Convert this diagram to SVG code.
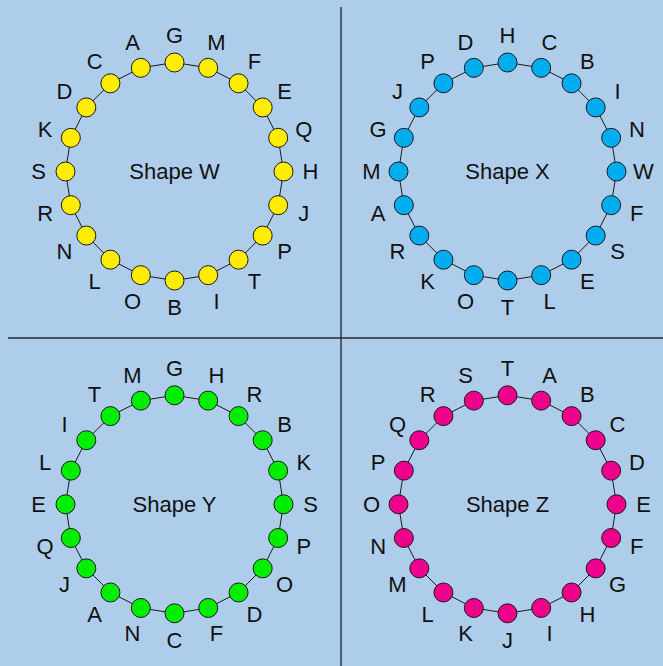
<svg xmlns="http://www.w3.org/2000/svg" xmlns:xlink="http://www.w3.org/1999/xlink" width="663" height="666" viewBox="0 0 663 666">
<style>
.bg{fill:#aecdea}
.div{stroke:#262a30;stroke-width:1.4;fill:none}
.edge{stroke:#1a1a1a;stroke-width:1;fill:none}
.n{stroke:#1a1a1a;stroke-width:1}
.w{fill:#ffed00}
.x{fill:#00aeef}
.y{fill:#00ee00}
.z{fill:#ec008c}
.lbl{font-family:"Liberation Sans",Arial,sans-serif;font-size:22px;fill:#111;text-anchor:middle}
.title{font-family:"Liberation Sans",Arial,sans-serif;font-size:22px;fill:#111;text-anchor:middle}
</style>
<defs>
<g id="ring">
<line x1="109" y1="0" x2="103.67" y2="-33.68"/>
<line x1="103.67" y1="-33.68" x2="88.18" y2="-64.07"/>
<line x1="88.18" y1="-64.07" x2="64.07" y2="-88.18"/>
<line x1="64.07" y1="-88.18" x2="33.68" y2="-103.67"/>
<line x1="33.68" y1="-103.67" x2="0" y2="-109"/>
<line x1="0" y1="-109" x2="-33.68" y2="-103.67"/>
<line x1="-33.68" y1="-103.67" x2="-64.07" y2="-88.18"/>
<line x1="-64.07" y1="-88.18" x2="-88.18" y2="-64.07"/>
<line x1="-88.18" y1="-64.07" x2="-103.67" y2="-33.68"/>
<line x1="-103.67" y1="-33.68" x2="-109" y2="0"/>
<line x1="-109" y1="0" x2="-103.67" y2="33.68"/>
<line x1="-103.67" y1="33.68" x2="-88.18" y2="64.07"/>
<line x1="-88.18" y1="64.07" x2="-64.07" y2="88.18"/>
<line x1="-64.07" y1="88.18" x2="-33.68" y2="103.67"/>
<line x1="-33.68" y1="103.67" x2="0" y2="109"/>
<line x1="0" y1="109" x2="33.68" y2="103.67"/>
<line x1="33.68" y1="103.67" x2="64.07" y2="88.18"/>
<line x1="64.07" y1="88.18" x2="88.18" y2="64.07"/>
<line x1="88.18" y1="64.07" x2="103.67" y2="33.68"/>
<line x1="103.67" y1="33.68" x2="109" y2="0"/>
</g>
</defs>
<rect class="bg" x="0" y="0" width="663" height="666"/>
<g id="dividers">
<line class="div" x1="341" y1="7" x2="341" y2="666"/>
<line class="div" x1="8" y1="338" x2="663" y2="338"/>
</g>
<g id="connectors" class="edge">
<use xlink:href="#ring" transform="translate(174.5,171.5)"/>
<use xlink:href="#ring" transform="translate(507.5,171.5)"/>
<use xlink:href="#ring" transform="translate(174.5,504.3)"/>
<use xlink:href="#ring" transform="translate(507.5,504.3)"/>
</g>
<g id="shapeW" transform="translate(174.5,171.5)">
<text class="title" x="0" y="7.5">Shape W</text>
<g id="W-H"><circle class="n w" cx="109" cy="0" r="9.5"/><text class="lbl" x="136" y="7.8">H</text></g>
<g id="W-Q"><circle class="n w" cx="103.67" cy="-33.68" r="9.5"/><text class="lbl" x="129.34" y="-34.2">Q</text></g>
<g id="W-E"><circle class="n w" cx="88.18" cy="-64.07" r="9.5"/><text class="lbl" x="110.03" y="-72.1">E</text></g>
<g id="W-F"><circle class="n w" cx="64.07" cy="-88.18" r="9.5"/><text class="lbl" x="79.94" y="-102.2">F</text></g>
<g id="W-M"><circle class="n w" cx="33.68" cy="-103.67" r="9.5"/><text class="lbl" x="42.03" y="-121.5">M</text></g>
<g id="W-G"><circle class="n w" cx="0" cy="-109" r="9.5"/><text class="lbl" x="0" y="-128.2">G</text></g>
<g id="W-A"><circle class="n w" cx="-33.68" cy="-103.67" r="9.5"/><text class="lbl" x="-42.03" y="-121.5">A</text></g>
<g id="W-C"><circle class="n w" cx="-64.07" cy="-88.18" r="9.5"/><text class="lbl" x="-79.94" y="-102.2">C</text></g>
<g id="W-D"><circle class="n w" cx="-88.18" cy="-64.07" r="9.5"/><text class="lbl" x="-110.03" y="-72.1">D</text></g>
<g id="W-K"><circle class="n w" cx="-103.67" cy="-33.68" r="9.5"/><text class="lbl" x="-129.34" y="-34.2">K</text></g>
<g id="W-S"><circle class="n w" cx="-109" cy="0" r="9.5"/><text class="lbl" x="-136" y="7.8">S</text></g>
<g id="W-R"><circle class="n w" cx="-103.67" cy="33.68" r="9.5"/><text class="lbl" x="-129.34" y="49.8">R</text></g>
<g id="W-N"><circle class="n w" cx="-88.18" cy="64.07" r="9.5"/><text class="lbl" x="-110.03" y="87.7">N</text></g>
<g id="W-L"><circle class="n w" cx="-64.07" cy="88.18" r="9.5"/><text class="lbl" x="-79.94" y="117.8">L</text></g>
<g id="W-O"><circle class="n w" cx="-33.68" cy="103.67" r="9.5"/><text class="lbl" x="-42.03" y="137.1">O</text></g>
<g id="W-B"><circle class="n w" cx="0" cy="109" r="9.5"/><text class="lbl" x="0" y="143.8">B</text></g>
<g id="W-I"><circle class="n w" cx="33.68" cy="103.67" r="9.5"/><text class="lbl" x="42.03" y="137.1">I</text></g>
<g id="W-T"><circle class="n w" cx="64.07" cy="88.18" r="9.5"/><text class="lbl" x="79.94" y="117.8">T</text></g>
<g id="W-P"><circle class="n w" cx="88.18" cy="64.07" r="9.5"/><text class="lbl" x="110.03" y="87.7">P</text></g>
<g id="W-J"><circle class="n w" cx="103.67" cy="33.68" r="9.5"/><text class="lbl" x="129.34" y="49.8">J</text></g>
</g>
<g id="shapeX" transform="translate(507.5,171.5)">
<text class="title" x="0" y="7.5">Shape X</text>
<g id="X-W"><circle class="n x" cx="109" cy="0" r="9.5"/><text class="lbl" x="136" y="7.8">W</text></g>
<g id="X-N"><circle class="n x" cx="103.67" cy="-33.68" r="9.5"/><text class="lbl" x="129.34" y="-34.2">N</text></g>
<g id="X-I"><circle class="n x" cx="88.18" cy="-64.07" r="9.5"/><text class="lbl" x="110.03" y="-72.1">I</text></g>
<g id="X-B"><circle class="n x" cx="64.07" cy="-88.18" r="9.5"/><text class="lbl" x="79.94" y="-102.2">B</text></g>
<g id="X-C"><circle class="n x" cx="33.68" cy="-103.67" r="9.5"/><text class="lbl" x="42.03" y="-121.5">C</text></g>
<g id="X-H"><circle class="n x" cx="0" cy="-109" r="9.5"/><text class="lbl" x="0" y="-128.2">H</text></g>
<g id="X-D"><circle class="n x" cx="-33.68" cy="-103.67" r="9.5"/><text class="lbl" x="-42.03" y="-121.5">D</text></g>
<g id="X-P"><circle class="n x" cx="-64.07" cy="-88.18" r="9.5"/><text class="lbl" x="-79.94" y="-102.2">P</text></g>
<g id="X-J"><circle class="n x" cx="-88.18" cy="-64.07" r="9.5"/><text class="lbl" x="-110.03" y="-72.1">J</text></g>
<g id="X-G"><circle class="n x" cx="-103.67" cy="-33.68" r="9.5"/><text class="lbl" x="-129.34" y="-34.2">G</text></g>
<g id="X-M"><circle class="n x" cx="-109" cy="0" r="9.5"/><text class="lbl" x="-136" y="7.8">M</text></g>
<g id="X-A"><circle class="n x" cx="-103.67" cy="33.68" r="9.5"/><text class="lbl" x="-129.34" y="49.8">A</text></g>
<g id="X-R"><circle class="n x" cx="-88.18" cy="64.07" r="9.5"/><text class="lbl" x="-110.03" y="87.7">R</text></g>
<g id="X-K"><circle class="n x" cx="-64.07" cy="88.18" r="9.5"/><text class="lbl" x="-79.94" y="117.8">K</text></g>
<g id="X-O"><circle class="n x" cx="-33.68" cy="103.67" r="9.5"/><text class="lbl" x="-42.03" y="137.1">O</text></g>
<g id="X-T"><circle class="n x" cx="0" cy="109" r="9.5"/><text class="lbl" x="0" y="143.8">T</text></g>
<g id="X-L"><circle class="n x" cx="33.68" cy="103.67" r="9.5"/><text class="lbl" x="42.03" y="137.1">L</text></g>
<g id="X-E"><circle class="n x" cx="64.07" cy="88.18" r="9.5"/><text class="lbl" x="79.94" y="117.8">E</text></g>
<g id="X-S"><circle class="n x" cx="88.18" cy="64.07" r="9.5"/><text class="lbl" x="110.03" y="87.7">S</text></g>
<g id="X-F"><circle class="n x" cx="103.67" cy="33.68" r="9.5"/><text class="lbl" x="129.34" y="49.8">F</text></g>
</g>
<g id="shapeY" transform="translate(174.5,504.3)">
<text class="title" x="0" y="7.5">Shape Y</text>
<g id="Y-S"><circle class="n y" cx="109" cy="0" r="9.5"/><text class="lbl" x="136" y="7.8">S</text></g>
<g id="Y-K"><circle class="n y" cx="103.67" cy="-33.68" r="9.5"/><text class="lbl" x="129.34" y="-34.2">K</text></g>
<g id="Y-B"><circle class="n y" cx="88.18" cy="-64.07" r="9.5"/><text class="lbl" x="110.03" y="-72.1">B</text></g>
<g id="Y-R"><circle class="n y" cx="64.07" cy="-88.18" r="9.5"/><text class="lbl" x="79.94" y="-102.2">R</text></g>
<g id="Y-H"><circle class="n y" cx="33.68" cy="-103.67" r="9.5"/><text class="lbl" x="42.03" y="-121.5">H</text></g>
<g id="Y-G"><circle class="n y" cx="0" cy="-109" r="9.5"/><text class="lbl" x="0" y="-128.2">G</text></g>
<g id="Y-M"><circle class="n y" cx="-33.68" cy="-103.67" r="9.5"/><text class="lbl" x="-42.03" y="-121.5">M</text></g>
<g id="Y-T"><circle class="n y" cx="-64.07" cy="-88.18" r="9.5"/><text class="lbl" x="-79.94" y="-102.2">T</text></g>
<g id="Y-I"><circle class="n y" cx="-88.18" cy="-64.07" r="9.5"/><text class="lbl" x="-110.03" y="-72.1">I</text></g>
<g id="Y-L"><circle class="n y" cx="-103.67" cy="-33.68" r="9.5"/><text class="lbl" x="-129.34" y="-34.2">L</text></g>
<g id="Y-E"><circle class="n y" cx="-109" cy="0" r="9.5"/><text class="lbl" x="-136" y="7.8">E</text></g>
<g id="Y-Q"><circle class="n y" cx="-103.67" cy="33.68" r="9.5"/><text class="lbl" x="-129.34" y="49.8">Q</text></g>
<g id="Y-J"><circle class="n y" cx="-88.18" cy="64.07" r="9.5"/><text class="lbl" x="-110.03" y="87.7">J</text></g>
<g id="Y-A"><circle class="n y" cx="-64.07" cy="88.18" r="9.5"/><text class="lbl" x="-79.94" y="117.8">A</text></g>
<g id="Y-N"><circle class="n y" cx="-33.68" cy="103.67" r="9.5"/><text class="lbl" x="-42.03" y="137.1">N</text></g>
<g id="Y-C"><circle class="n y" cx="0" cy="109" r="9.5"/><text class="lbl" x="0" y="143.8">C</text></g>
<g id="Y-F"><circle class="n y" cx="33.68" cy="103.67" r="9.5"/><text class="lbl" x="42.03" y="137.1">F</text></g>
<g id="Y-D"><circle class="n y" cx="64.07" cy="88.18" r="9.5"/><text class="lbl" x="79.94" y="117.8">D</text></g>
<g id="Y-O"><circle class="n y" cx="88.18" cy="64.07" r="9.5"/><text class="lbl" x="110.03" y="87.7">O</text></g>
<g id="Y-P"><circle class="n y" cx="103.67" cy="33.68" r="9.5"/><text class="lbl" x="129.34" y="49.8">P</text></g>
</g>
<g id="shapeZ" transform="translate(507.5,504.3)">
<text class="title" x="0" y="7.5">Shape Z</text>
<g id="Z-E"><circle class="n z" cx="109" cy="0" r="9.5"/><text class="lbl" x="136" y="7.8">E</text></g>
<g id="Z-D"><circle class="n z" cx="103.67" cy="-33.68" r="9.5"/><text class="lbl" x="129.34" y="-34.2">D</text></g>
<g id="Z-C"><circle class="n z" cx="88.18" cy="-64.07" r="9.5"/><text class="lbl" x="110.03" y="-72.1">C</text></g>
<g id="Z-B"><circle class="n z" cx="64.07" cy="-88.18" r="9.5"/><text class="lbl" x="79.94" y="-102.2">B</text></g>
<g id="Z-A"><circle class="n z" cx="33.68" cy="-103.67" r="9.5"/><text class="lbl" x="42.03" y="-121.5">A</text></g>
<g id="Z-T"><circle class="n z" cx="0" cy="-109" r="9.5"/><text class="lbl" x="0" y="-128.2">T</text></g>
<g id="Z-S"><circle class="n z" cx="-33.68" cy="-103.67" r="9.5"/><text class="lbl" x="-42.03" y="-121.5">S</text></g>
<g id="Z-R"><circle class="n z" cx="-64.07" cy="-88.18" r="9.5"/><text class="lbl" x="-79.94" y="-102.2">R</text></g>
<g id="Z-Q"><circle class="n z" cx="-88.18" cy="-64.07" r="9.5"/><text class="lbl" x="-110.03" y="-72.1">Q</text></g>
<g id="Z-P"><circle class="n z" cx="-103.67" cy="-33.68" r="9.5"/><text class="lbl" x="-129.34" y="-34.2">P</text></g>
<g id="Z-O"><circle class="n z" cx="-109" cy="0" r="9.5"/><text class="lbl" x="-136" y="7.8">O</text></g>
<g id="Z-N"><circle class="n z" cx="-103.67" cy="33.68" r="9.5"/><text class="lbl" x="-129.34" y="49.8">N</text></g>
<g id="Z-M"><circle class="n z" cx="-88.18" cy="64.07" r="9.5"/><text class="lbl" x="-110.03" y="87.7">M</text></g>
<g id="Z-L"><circle class="n z" cx="-64.07" cy="88.18" r="9.5"/><text class="lbl" x="-79.94" y="117.8">L</text></g>
<g id="Z-K"><circle class="n z" cx="-33.68" cy="103.67" r="9.5"/><text class="lbl" x="-42.03" y="137.1">K</text></g>
<g id="Z-J"><circle class="n z" cx="0" cy="109" r="9.5"/><text class="lbl" x="0" y="143.8">J</text></g>
<g id="Z-I"><circle class="n z" cx="33.68" cy="103.67" r="9.5"/><text class="lbl" x="42.03" y="137.1">I</text></g>
<g id="Z-H"><circle class="n z" cx="64.07" cy="88.18" r="9.5"/><text class="lbl" x="79.94" y="117.8">H</text></g>
<g id="Z-G"><circle class="n z" cx="88.18" cy="64.07" r="9.5"/><text class="lbl" x="110.03" y="87.7">G</text></g>
<g id="Z-F"><circle class="n z" cx="103.67" cy="33.68" r="9.5"/><text class="lbl" x="129.34" y="49.8">F</text></g>
</g>
</svg>
